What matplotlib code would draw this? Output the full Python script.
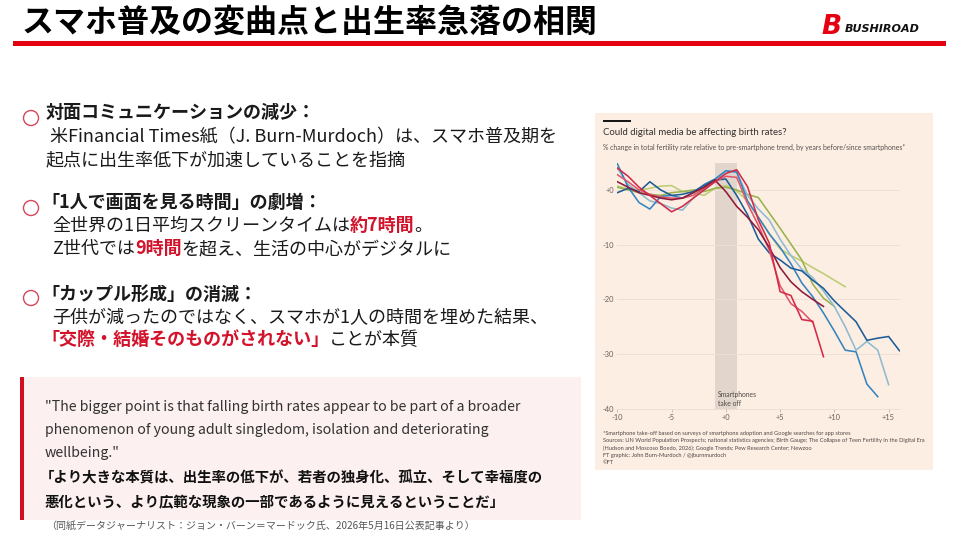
import matplotlib
matplotlib.use('Agg')
import matplotlib.pyplot as plt
from matplotlib.patches import Rectangle, Circle

plt.rcParams['font.family'] = ['Noto Sans CJK JP', 'DejaVu Sans']

# ---------------- data ----------------
years = [-10, -9, -8, -7, -6, -5, -4, -3, -2, -1, 0, 1, 2, 3, 4, 5, 6, 7, 8, 9, 10, 11, 12, 13, 14, 15, 16]

dark_blue = [-0.5, 0.3, -0.3, 1.5, 0.0, -1.0, -0.8, -0.3, 0.8, 1.8, 2.0, -1.0, -4.5, -9.0, -11.5, -12.8,
             -14.3, -14.8, -16.5, -18.0, -20.3, -22.2, -24.1, -27.5, -27.1, -26.8, -29.4]
medium_blue = [4.8, 0.5, -2.3, -3.5, -1.2, -1.0, -1.5, -0.5, 1.0, 2.0, 3.5, 3.3, -2.0, -5.0, -8.0, -10.5,
               -13.5, -17.0, -19.5, -22.5, -25.8, -29.3, -29.6, -35.5, -37.8]
light_blue = [4.0, 1.0, -0.5, -2.0, -2.5, -3.3, -3.7, -1.5, 0.0, 1.5, 3.5, 3.2, -1.0, -3.5, -5.5, -9.0,
              -12.0, -14.5, -16.0, -18.5, -21.3, -25.0, -29.3, -27.7, -29.3, -35.6]
olive_green = [0.5, 0.0, -0.5, -0.8, -1.0, -0.5, -0.3, 0.0, -0.3, 0.3, 0.5, 0.0, -0.8, -1.4, -4.2, -7.0,
               -9.9, -12.8, -17.2, -19.8, -21.3]
light_green = [0.7, 0.2, 0.0, 0.3, 0.7, 0.8, -0.3, -0.5, -1.0, 0.3, 0.8, -0.2, -2.0, -5.0, -8.0, -10.8,
               -12.0, -13.0, -14.2, -15.3, -16.5, -17.7]
red_a = [4.0, 2.5, 0.5, -1.0, -2.5, -4.0, -3.0, -1.5, 0.0, 1.5, 3.0, 3.7, 0.6, -5.5, -9.7, -18.6,
         -19.3, -23.7, -24.0, -30.5]
pink_b = [2.8, 1.5, 0.0, -0.8, -1.3, -1.5, -1.5, -1.0, 0.3, 1.5, 2.5, 2.3, -2.5, -6.5, -11.0, -17.5,
          -20.8, -22.2, -24.2]
maroon = [1.5, 0.5, -0.5, -1.0, -1.5, -1.8, -1.5, -0.5, 0.5, 1.8, -0.3, -3.0, -5.0, -7.3, -10.5, -14.2,
          -16.8, -18.6, -20.0, -21.3]

series = [
    (light_green, '#bccd74'),
    (olive_green, '#9bb14c'),
    (light_blue, '#8dbbd0'),
    (medium_blue, '#3584bf'),
    (dark_blue, '#1b5d98'),
    (pink_b, '#e0576c'),
    (maroon, '#8c1b3b'),
    (red_a, '#d42a48'),
]

y_ticks = [0, -10, -20, -30, -40]
y_tick_labels = ['+0', '-10', '-20', '-30', '-40']
x_ticks = [-10, -5, 0, 5, 10, 15]
x_tick_labels = ['-10', '-5', '+0', '+5', '+10', '+15']

title = 'スマホ普及の変曲点と出生率急落の相関'

# ---------------- figure ----------------
fig = plt.figure(figsize=(9.6, 5.4), dpi=100)
bg = fig.add_axes([0, 0, 1, 1])
bg.set_xlim(0, 960)
bg.set_ylim(540, 0)
bg.axis('off')

RED = '#e50012'
TRED = '#d3132b'
DARK = '#1a1a1a'

# title and bar
bg.text(22, 23, title, fontsize=23, fontweight='bold', va='center', ha='left', color='#000000')
bg.add_patch(Rectangle((13, 41), 933, 5, fc=RED, ec='none'))

# logo
bg.text(821, 27, 'B', fontsize=19, fontweight='bold', fontstyle='italic', color=RED,
        va='center', ha='left', family='DejaVu Sans')
bg.text(845, 29, 'BUSHIROAD', fontsize=8, fontweight='bold', fontstyle='italic', color='#111111',
        va='center', ha='left', family='DejaVu Sans')


def rich(x, y, parts, size):
    s, c, w = parts[0]
    t = bg.text(x, y, s, fontsize=size, color=c, fontweight=w, va='bottom', ha='left')
    for s, c, w in parts[1:]:
        t = bg.annotate(s, xy=(1, 0), xycoords=t, va='bottom', ha='left',
                        fontsize=size, color=c, fontweight=w)
    return t


BODY = 13
off = 11  # bottom offset so that text is centered at y

# bullets
for cy in (118, 208, 298):
    bg.add_patch(Circle((31, cy), 7.5, fill=False, ec='#d8465a', lw=1.0))

rich(46, 111 + off, [('対面コミュニケーションの減少：', DARK, 'bold')], BODY)
rich(46, 135 + off, [(' 米Financial Times紙（J. Burn-Murdoch）は、スマホ普及期を', DARK, 'normal')], BODY)
rich(46, 158 + off, [('起点に出生率低下が加速していることを指摘', DARK, 'normal')], BODY)

rich(41, 201 + off, [('「1人で画面を見る時間」の劇増：', DARK, 'bold')], BODY)
rich(52, 224 + off, [('全世界の1日平均スクリーンタイムは', DARK, 'normal'), ('約7時間', TRED, 'bold'),
                     ('。', DARK, 'normal')], BODY)
rich(52, 247 + off, [('Z世代では', DARK, 'normal'), ('9時間', TRED, 'bold'),
                     ('を超え、生活の中心がデジタルに', DARK, 'normal')], BODY)

rich(41, 293 + off, [('「カップル形成」の消滅：', DARK, 'bold')], BODY)
rich(52, 316 + off, [('子供が減ったのではなく、スマホが1人の時間を埋めた結果、', DARK, 'normal')], BODY)
rich(41, 338 + off, [('「交際・結婚そのものがされない」', TRED, 'bold'), ('ことが本質', DARK, 'normal')], BODY)

# quote box
bg.add_patch(Rectangle((20, 377), 561, 143, fc='#fcf0f0', ec='none'))
bg.add_patch(Rectangle((20, 377), 4, 143, fc='#d0101f', ec='none'))
QS = 10.2
bg.text(45, 407, '"The bigger point is that falling birth rates appear to be part of a broader',
        fontsize=QS, color='#333333', va='center', ha='left')
bg.text(45, 430, 'phenomenon of young adult singledom, isolation and deteriorating',
        fontsize=QS, color='#333333', va='center', ha='left')
bg.text(45, 453, 'wellbeing."', fontsize=QS, color='#333333', va='center', ha='left')
bg.text(40, 478, '「より大きな本質は、出生率の低下が、若者の独身化、孤立、そして幸福度の',
        fontsize=10.4, fontweight='bold', color='#111111', va='center', ha='left')
bg.text(45, 503, '悪化という、より広範な現象の一部であるように見えるということだ」',
        fontsize=10.4, fontweight='bold', color='#111111', va='center', ha='left')
bg.text(46, 526, '（同紙データジャーナリスト：ジョン・バーン＝マードック氏、2026年5月16日公表記事より）',
        fontsize=7.2, color='#555555', va='center', ha='left')

# ---------------- embedded FT chart ----------------
bg.add_patch(Rectangle((595, 113), 338, 357, fc='#fdeee3', ec='none'))
bg.add_patch(Rectangle((603, 119.5), 28, 2, fc='#1a1817', ec='none'))
bg.text(603, 132.5, 'Could digital media be affecting birth rates?', fontsize=6.9,
        color='#33302e', va='center', ha='left', family='Lato')
bg.text(603, 147, '% change in total fertility rate relative to pre-smartphone trend, by years before/since smartphones*',
        fontsize=4.95, color='#55504c', va='center', ha='left', family='Lato')

foot = ['*Smartphone take-off based on surveys of smartphone adoption and Google searches for app stores',
        'Sources: UN World Population Prospects; national statistics agencies; Birth Gauge; The Collapse of Teen Fertility in the Digital Era',
        '(Hudson and Moscoso Boedo, 2026); Google Trends; Pew Research Center; Newzoo',
        'FT graphic: John Burn-Murdoch / @jburnmurdoch',
        '©FT']
for i, line in enumerate(foot):
    bg.text(603, 433.5 + i * 7.3, line, fontsize=4.1, color='#4d4845', va='center', ha='left', family='Lato')

left, right, top, bottom = 617.3, 900.0, 162.6, 408.7
ax = fig.add_axes([left / 960, 1 - bottom / 540, (right - left) / 960, (bottom - top) / 540])
ax.set_facecolor('none')
ax.set_xlim(-10, 16.05)
ax.set_ylim(-40, 5)
ax.axvspan(-1, 1, color='#e2d5cb', zorder=0, lw=0)
for yv in y_ticks[:-1]:
    ax.axhline(yv, color='#eee0d5', lw=0.7, zorder=0.5)
for vals, col in series:
    ax.plot(years[:len(vals)], vals, color=col, lw=1.15, zorder=2, solid_joinstyle='round')

ax.set_yticks(y_ticks)
ax.set_yticklabels(y_tick_labels)
ax.set_xticks(x_ticks)
ax.set_xticklabels(x_tick_labels)
ax.tick_params(axis='y', length=0, pad=2.5, labelsize=5.4, labelcolor='#66605c')
ax.tick_params(axis='x', length=2, width=0.5, color='#b8aca2', pad=1.5, labelsize=5.4, labelcolor='#66605c')
for sp in ('top', 'right', 'left'):
    ax.spines[sp].set_visible(False)
ax.spines['bottom'].set_color('#e6d9ce')
ax.spines['bottom'].set_linewidth(0.5)
for lab in ax.get_xticklabels() + ax.get_yticklabels():
    lab.set_family('Lato')
ax.text(-0.75, -38.2, 'Smartphones\ntake off', fontsize=4.9, color='#4d4845', va='center', ha='left',
        family='Lato', linespacing=1.45)

fig.savefig('out.png', dpi=100)
